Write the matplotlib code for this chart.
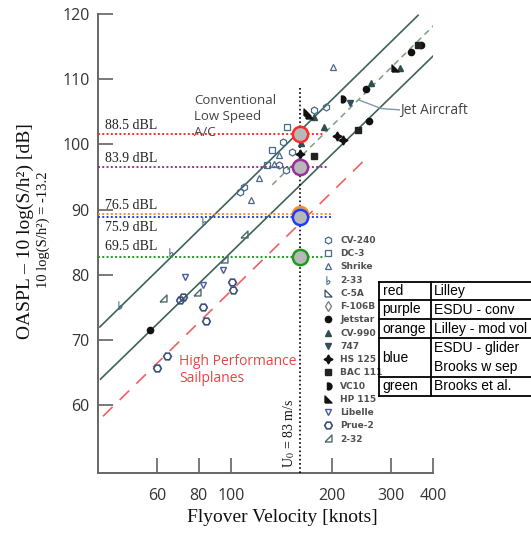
import numpy as np
import matplotlib
matplotlib.use("Agg")
import matplotlib.pyplot as plt
from matplotlib.lines import Line2D
from matplotlib.ticker import NullLocator

# ---------------- data ----------------
xticks = [60, 80, 100, 200, 300, 400]
yticks = [60, 70, 80, 90, 100, 110, 120]

# fitted trend lines (endpoints)
upper_v, upper_db = [40.5, 361], [72.0, 119.8]
lower_v, lower_db = [40.7, 403], [64.0, 113.7]
jet_v, jet_db = [132.5, 403], [93.8, 118.3]
sail_v, sail_db = [41.4, 255.6], [58.3, 98.1]
leader_v, leader_db = [240.6, 280.2, 317.3], [106.8, 105.5, 105.3]

# predicted levels at U0
u0_knots = 160.3
level_names = ["88.5 dBL", "83.9 dBL", "76.5 dBL", "75.9 dBL", "69.5 dBL"]
level_db = [101.6, 96.6, 89.3, 88.8, 82.8]
level_colors = ["#ff2a2a", "#9a2e9a", "#ff8c2a", "#1f3cff", "#1f9a1f"]
level_xend = [188, 195, 198, 198, 190]

# aircraft measurements (velocity knots, normalised OASPL dB)
aircraft = ["CV-240", "DC-3", "Shrike", "2-33", "C-5A", "F-106B", "Jetstar",
            "CV-990", "747", "HS 125", "BAC 111", "VC10", "HP 115",
            "Libelle", "Prue-2", "2-32"]
cv240_v = [142.6, 152.1, 138.7, 145.6, 106.4, 108.9, 176.3, 191.6]
cv240_db = [100.3, 98.9, 96.8, 96.1, 92.7, 93.5, 105.3, 105.7]
dc3_v = [146.9, 132.5, 128.0]
dc3_db = [102.6, 99.2, 96.8]
shrike_v = [138.7, 134.0, 120.8, 114.8, 200.6]
shrike_db = [98.4, 97.0, 94.9, 91.4, 111.9]
s233_v = [82.9, 65.9, 46.6]
s233_db = [88.3, 83.5, 75.4]
c5a_v, c5a_db = [], []
f106_v, f106_db = [], []
jetstar_v = [57.1, 252.6, 343.1, 369.5, 258.4]
jetstar_db = [71.5, 108.5, 114.1, 115.2, 103.6]
cv990_v = [261.5, 317.9, 176.6, 161.1, 188.6]
cv990_db = [109.4, 111.7, 104.2, 100.2, 102.7]
b747_v, b747_db = [226.6], [106.3]
hs125_v = [160.3, 206.7, 215.0]
hs125_db = [98.6, 101.3, 100.6]
bac_v = [176.6, 239.4, 361.2]
bac_db = [98.2, 102.2, 115.2]
vc10_v, vc10_db = [213.9], [106.9]
hp115_v = [168.7, 307.2, 170.7]
hp115_db = [105.0, 111.7, 104.5]
libelle_v = [94.4, 72.8, 82.6]
libelle_db = [80.7, 79.6, 78.4]
prue_v = [100.5, 101.2, 82.6, 84.1, 64.1, 59.8, 70.3, 71.9]
prue_db = [78.9, 77.6, 75.1, 72.9, 67.5, 65.7, 76.1, 76.6]
s232_v = [108.9, 94.8, 62.6, 78.9]
s232_db = [86.2, 82.4, 76.4, 77.3]

table_colors = ["red", "purple", "orange", "blue", "green"]
table_methods = ["Lilley", "ESDU - conv", "Lilley - mod vol",
                 "ESDU - glider\nBrooks w sep", "Brooks et al."]

# ---------------- figure ----------------
W, H = 531, 534
fig = plt.figure(figsize=(W / 100, H / 100), dpi=100)
fig.patch.set_facecolor("white")

def fx(px):
    return px / W

def fy(py):
    return 1 - py / H

ax = fig.add_axes([fx(98), fy(473), (433 - 98) / W, (473 - 14) / H])
ax.set_xscale("log")
ax.set_xlim(40, 400)
ax.set_ylim(49.6, 120)
for s in ["top", "right"]:
    ax.spines[s].set_visible(False)
for s in ["left", "bottom"]:
    ax.spines[s].set_color("#666666")
    ax.spines[s].set_linewidth(1.4)
ax.set_xticks(xticks)
ax.set_xticklabels([str(t) for t in xticks])
ax.xaxis.set_minor_locator(NullLocator())
ax.set_yticks(yticks)
ax.set_yticklabels([str(t) for t in yticks])
ax.tick_params(axis="both", direction="in", length=11, width=1.1,
               color="#555555", labelcolor="#333333", labelsize=11.5)
ax.tick_params(axis="x", pad=11)
ax.tick_params(axis="y", pad=6)
for lab in ax.get_xticklabels() + ax.get_yticklabels():
    lab.set_family("Open Sans")

# trend lines
line_col = "#3f6358"
ax.plot(upper_v, upper_db, color=line_col, lw=1.2, zorder=2)
ax.plot(lower_v, lower_db, color=line_col, lw=1.2, zorder=2)
ax.plot(jet_v, jet_db, color="#7aa07a", lw=1.1, dashes=(4, 3), zorder=2)
ax.plot(sail_v, sail_db, color="#f06060", lw=1.2, dashes=(8, 6), zorder=2)
ax.plot(leader_v, leader_db, color="#8098aa", lw=1.0, zorder=2)

# U0 vertical line
ax.plot([u0_knots, u0_knots], [49.6, 109], color="black", lw=1.2,
        linestyle=(0, (1, 1.5)), zorder=3)

# level lines and circles
for name, db, c, xe in zip(level_names, level_db, level_colors, level_xend):
    ax.plot([40, xe], [db, db], color=c, lw=1.4, linestyle=(0, (1, 1.2)), zorder=3)
for db, c in zip(level_db, level_colors):
    ax.plot([u0_knots], [db], marker="o", ms=11, mfc="#b8b8b8", mec=c,
            mew=1.8, zorder=6)

serif = "Liberation Serif"
label_offsets = [0.3, 0.3, 0.3, -0.5, 0.5]
for name, db, off in zip(level_names, level_db, label_offsets):
    va = "bottom" if off > 0 else "top"
    ax.text(42, db + off, name, family=serif, fontsize=10, color="#222222",
            ha="left", va=va, zorder=4)

# aircraft markers
tri_open = [(-1, -1), (1, -1), (-1, 1), (-1, -1)]
tri_232 = [(-1, -1), (1, -1), (1, 1), (-1, -1)]
th = np.linspace(-np.pi / 2, np.pi / 2, 20)
half_disk = [(-0.3, -1)] + [(np.cos(t), np.sin(t)) for t in th] + [(-0.3, 1), (-0.3, -1)]

oc = "#4a6a8a"
styles = {
    "CV-240": dict(marker="h", mfc="none", mec=oc, ms=5, mew=0.9),
    "DC-3": dict(marker="s", mfc="none", mec=oc, ms=4.5, mew=0.9),
    "Shrike": dict(marker="^", mfc="none", mec=oc, ms=5, mew=0.9),
    "2-33": dict(marker=r"$\flat$", mfc=oc, mec=oc, ms=6, mew=0.3),
    "C-5A": dict(marker=tri_open, mfc="none", mec="#2f4f5f", ms=5, mew=0.9),
    "F-106B": dict(marker="d", mfc="none", mec="#777777", ms=5, mew=0.9),
    "Jetstar": dict(marker="o", mfc="#111111", mec="#111111", ms=4.5),
    "CV-990": dict(marker="^", mfc="#2f4f4f", mec="#2f4f4f", ms=4.5),
    "747": dict(marker="v", mfc="#2f4f5f", mec="#2f4f5f", ms=4.5),
    "HS 125": dict(marker=(4, 1, 0), mfc="#111111", mec="#111111", ms=6.5),
    "BAC 111": dict(marker="s", mfc="#222222", mec="#222222", ms=4.5),
    "VC10": dict(marker=half_disk, mfc="#111111", mec="#111111", ms=5),
    "HP 115": dict(marker=tri_open, mfc="#111111", mec="#111111", ms=5),
    "Libelle": dict(marker="v", mfc="none", mec="#4a5aa0", ms=5, mew=1.0),
    "Prue-2": dict(marker="H", mfc="none", mec="#3a4f7a", ms=5.5, mew=1.2),
    "2-32": dict(marker=tri_232, mfc="none", mec="#4a6a6a", ms=5, mew=1.0),
}
series = {
    "CV-240": (cv240_v, cv240_db), "DC-3": (dc3_v, dc3_db),
    "Shrike": (shrike_v, shrike_db), "2-33": (s233_v, s233_db),
    "C-5A": (c5a_v, c5a_db), "F-106B": (f106_v, f106_db),
    "Jetstar": (jetstar_v, jetstar_db), "CV-990": (cv990_v, cv990_db),
    "747": (b747_v, b747_db), "HS 125": (hs125_v, hs125_db),
    "BAC 111": (bac_v, bac_db), "VC10": (vc10_v, vc10_db),
    "HP 115": (hp115_v, hp115_db), "Libelle": (libelle_v, libelle_db),
    "Prue-2": (prue_v, prue_db), "2-32": (s232_v, s232_db),
}
handles = []
for name in aircraft:
    v, db = series[name]
    h, = ax.plot(v, db, linestyle="none", label=name, zorder=5, **styles[name])
    handles.append(h)

leg = ax.legend(handles=handles, loc="upper left",
                bbox_to_anchor=(fx(323), fy(236)), bbox_transform=fig.transFigure,
                frameon=False, handlelength=1.0, handletextpad=0.9,
                labelspacing=0.47, borderpad=0, borderaxespad=0, numpoints=1,
                prop={"family": "DejaVu Sans", "size": 6.5, "weight": "semibold"})
for t in leg.get_texts():
    t.set_color("#505050")

# annotations
sans = "Open Sans"
fig.text(fx(194), fy(94), "Conventional\nLow Speed\nA/C",
         family=sans, fontsize=9.5, color="#444444", ha="left", va="top",
         linespacing=1.32)
fig.text(fx(400), fy(110), "Jet Aircraft", family=sans, fontsize=10,
         color="#444444", ha="left", va="center")
fig.text(fx(179), fy(370), "High Performance\nSailplanes", family=sans,
         fontsize=10, color="#e84545", ha="left", va="center", linespacing=1.15)
fig.text(fx(289), fy(433), r"U$_0$ = 83 m/s", family=serif, fontsize=10,
         rotation=90, ha="center", va="center", color="#111111",
         math_fontfamily="stix")

# axis labels
fig.text(fx(25), fy(231), "OASPL – 10 log(S/h²) [dB]", family=serif,
         fontsize=14, rotation=90, ha="center", va="center", color="#111111")
fig.text(fx(43), fy(230), "10 log(S/h²) = -13.2", family=serif,
         fontsize=10.5, rotation=90, ha="center", va="center", color="#111111")
fig.text(fx(282), fy(517), "Flyover Velocity [knots]", family=serif,
         fontsize=14, ha="center", va="center", color="#111111")

# method table
row_edges = [281.7, 300, 319, 338.3, 376.7, 395.7]
x_left, x_mid, x_right = 379, 430.7, 540
lw_t = 1.3
for y in row_edges:
    fig.add_artist(Line2D([fx(x_left), fx(x_right)], [fy(y), fy(y)],
                          color="black", lw=lw_t, transform=fig.transFigure))
for x in [x_left, x_mid]:
    fig.add_artist(Line2D([fx(x), fx(x)], [fy(row_edges[0]), fy(row_edges[-1])],
                          color="black", lw=lw_t, transform=fig.transFigure))
for i, (cname, meth) in enumerate(zip(table_colors, table_methods)):
    yc = (row_edges[i] + row_edges[i + 1]) / 2
    fig.text(fx(382.5), fy(yc), cname, family="Liberation Sans", fontsize=10,
             ha="left", va="center", color="black")
    fig.text(fx(434), fy(yc), meth, family="Liberation Sans", fontsize=10,
             ha="left", va="center", color="black", linespacing=1.5)

fig.savefig("out.png", dpi=100, facecolor="white")
